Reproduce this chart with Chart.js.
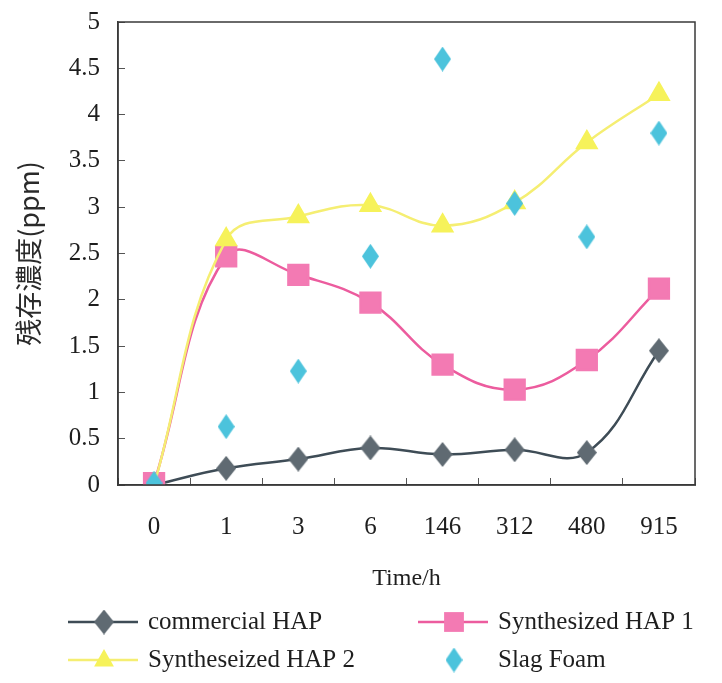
<!DOCTYPE html>
<html>
<head>
<meta charset="utf-8">
<script src="https://cdn.jsdelivr.net/npm/chart.js@4/dist/chart.umd.min.js"></script>
<style>
  html, body { margin: 0; padding: 0; background: #fff; }
  #wrap { width: 722px; height: 683px; }
</style>
</head>
<body>
<div id="wrap"><canvas id="residueChart" width="722" height="683"></canvas></div>
<script>
// data
const timeLabels = ["0", "1", "3", "6", "146", "312", "480", "915"];
const commercialHAP = [0, 0.18, 0.28, 0.40, 0.33, 0.38, 0.35, 1.45];
const synthHAP1 = [0.02, 2.47, 2.27, 1.97, 1.30, 1.03, 1.35, 2.12];
const synthHAP2 = [0, 2.65, 2.90, 3.02, 2.80, 3.05, 3.70, 4.22];
const slagFoam = [0.02, 0.63, 1.23, 2.47, 4.60, 3.04, 2.68, 3.80];
const yTicks = [0, 0.5, 1, 1.5, 2, 2.5, 3, 3.5, 4, 4.5, 5];

const serif = "'Liberation Serif', 'DejaVu Serif', serif";

// narrow diamond marker (taller than wide, like the original)
function makeDiamond(w, h, color) {
    const c = document.createElement("canvas");
    c.width = w; c.height = h;
    const g = c.getContext("2d");
    g.fillStyle = color;
    g.beginPath();
    g.moveTo(w / 2, 0); g.lineTo(w, h / 2); g.lineTo(w / 2, h); g.lineTo(0, h / 2);
    g.closePath();
    g.fill();
    return c;
}
const greyDiamond = makeDiamond(20, 25, "#5f6a72");
const cyanDiamond = makeDiamond(17, 25, "#4cc3dc");

// box around the plot area
const framePlugin = {
    id: "frame",
    afterDraw(chart) {
        const a = chart.chartArea;
        const ctx = chart.ctx;
        ctx.save();
        ctx.strokeStyle = "#3a3a3a";
        ctx.lineWidth = 1.5;
        ctx.strokeRect(a.left, a.top, a.right - a.left, a.bottom - a.top);
        ctx.restore();
    }
};

// legend with line + marker, two columns
function drawMarker(ctx, style, r, x, y) {
    if (style instanceof HTMLCanvasElement) {
        ctx.drawImage(style, x - style.width / 2, y - style.height / 2);
        return;
    }
    ctx.beginPath();
    if (style === "rect") {
        const s = r * Math.SQRT1_2;
        ctx.rect(x - s, y - s, 2 * s, 2 * s);
    } else if (style === "triangle") {
        ctx.moveTo(x, y - r); ctx.lineTo(x + r * 0.9, y + r * 0.6); ctx.lineTo(x - r * 0.9, y + r * 0.6);
    }
    ctx.closePath();
    ctx.fill();
}

const legendPlugin = {
    id: "twoColLegend",
    afterDraw(chart) {
        const ctx = chart.ctx;
        const spots = [
            { x: 68, y: 622 }, { x: 418, y: 622 },
            { x: 68, y: 660 }, { x: 418, y: 660 }
        ];
        chart.data.datasets.forEach(function (ds, i) {
            const p = spots[i];
            ctx.save();
            if (ds.showLine !== false) {
                ctx.strokeStyle = ds.borderColor;
                ctx.lineWidth = ds.borderWidth;
                ctx.beginPath();
                ctx.moveTo(p.x, p.y);
                ctx.lineTo(p.x + 70, p.y);
                ctx.stroke();
            }
            ctx.fillStyle = ds.pointBackgroundColor;
            drawMarker(ctx, ds.pointStyle, ds.pointRadius, p.x + 36, p.y);
            ctx.fillStyle = "#1e1e1e";
            ctx.font = "25px " + serif;
            ctx.textBaseline = "middle";
            ctx.fillText(ds.label, p.x + 80, p.y);
            ctx.restore();
        });
    }
};

const ctx = document.getElementById("residueChart").getContext("2d");
new Chart(ctx, {
    type: "line",
    data: {
        labels: timeLabels,
        datasets: [
            {
                label: "commercial HAP",
                data: commercialHAP,
                borderColor: "#3e4c56",
                borderWidth: 2.5,
                pointStyle: greyDiamond,
                pointRadius: 12,
                pointBackgroundColor: "#5f6a72",
                pointBorderColor: "#5f6a72",
                tension: 0.4,
                order: 3
            },
            {
                label: "Synthesized HAP 1",
                data: synthHAP1,
                borderColor: "#ec5c9e",
                borderWidth: 2.5,
                pointStyle: "rect",
                pointRadius: 14,
                pointBackgroundColor: "#f37ab3",
                pointBorderColor: "#f37ab3",
                tension: 0.4,
                order: 2
            },
            {
                label: "Syntheseized HAP 2",
                data: synthHAP2,
                borderColor: "#f5ee72",
                borderWidth: 2.5,
                pointStyle: "triangle",
                pointRadius: 11,
                pointBackgroundColor: "#f6f25a",
                pointBorderColor: "#f6f25a",
                tension: 0.4,
                order: 1
            },
            {
                label: "Slag Foam",
                data: slagFoam,
                showLine: false,
                borderColor: "#4cc3dc",
                borderWidth: 0,
                pointStyle: cyanDiamond,
                pointRadius: 12,
                pointBackgroundColor: "#4cc3dc",
                pointBorderColor: "#4cc3dc",
                order: 0
            }
        ]
    },
    options: {
        responsive: false,
        animation: false,
        layout: { padding: { left: 0, right: 27, top: 22, bottom: 88 } },
        plugins: {
            legend: { display: false },
            tooltip: { enabled: false }
        },
        scales: {
            x: {
                offset: true,
                grid: {
                    offset: true,
                    drawOnChartArea: false,
                    tickLength: -7,
                    color: "#555"
                },
                border: { display: true, color: "#3a3a3a", width: 1.5 },
                ticks: {
                    padding: 34,
                    color: "#1e1e1e",
                    font: { family: serif, size: 25 }
                },
                title: {
                    display: true,
                    text: "Time/h",
                    color: "#1e1e1e",
                    font: { family: serif, size: 24 },
                    padding: { top: 0, bottom: 2 }
                },
                afterFit(scale) {
                    scale.height = 110;
                    scale.paddingLeft = 0;
                    scale.paddingRight = 0;
                }
            },
            y: {
                min: 0,
                max: 5,
                afterBuildTicks(scale) {
                    scale.ticks = yTicks.map(v => ({ value: v }));
                },
                grid: {
                    drawOnChartArea: false,
                    tickLength: -7,
                    color: "#555"
                },
                border: { display: true, color: "#3a3a3a", width: 1.5 },
                ticks: {
                    padding: 25,
                    color: "#1e1e1e",
                    font: { family: serif, size: 25 },
                    callback: v => String(v)
                },
                title: {
                    display: true,
                    text: "残存濃度(ppm)",
                    color: "#2a2a2a",
                    font: { family: "'Noto Sans CJK JP', sans-serif", size: 27 },
                    padding: { top: 13, bottom: 0 }
                },
                afterFit(scale) {
                    scale.width = 118;
                    scale.paddingTop = 0;
                    scale.paddingBottom = 0;
                }
            }
        }
    },
    plugins: [framePlugin, legendPlugin]
});
</script>
</body>
</html>
